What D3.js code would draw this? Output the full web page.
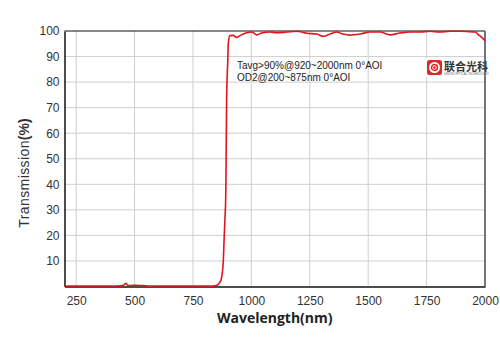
<!DOCTYPE html>
<html>
<head>
<meta charset="utf-8">
<script src="https://d3js.org/d3.v7.min.js"></script>
<style>
  body { margin: 0; background: #fff; }
  text { font-family: "Liberation Sans", Arial, sans-serif; }
</style>
</head>
<body>
<div id="chart"></div>
<script>
// wavelength (nm) and transmission (%)
var wavelength = [200, 300, 400, 440, 455, 463, 470, 485, 500, 520, 536, 560, 650, 750, 820, 850, 861, 870, 875, 880, 883, 887, 890, 891, 894, 899, 901, 908, 922, 937, 951, 980, 1001, 1023, 1044, 1080, 1108, 1151, 1194, 1237, 1280, 1308, 1337, 1365, 1392, 1422, 1465, 1508, 1551, 1593, 1636, 1679, 1722, 1764, 1807, 1850, 1893, 1936, 1958, 1971, 1986, 2000];
var transmission = [0.2, 0.2, 0.2, 0.3, 0.6, 1.3, 0.5, 0.4, 0.5, 0.4, 0.4, 0.2, 0.2, 0.2, 0.2, 0.4, 1.2, 2.5, 5, 10.3, 18, 27, 34, 41.7, 73, 88.7, 95, 98.2, 98.3, 97.5, 98.2, 99.3, 99.6, 98.5, 99.2, 99.6, 99.3, 99.6, 99.9, 99.1, 98.8, 97.9, 98.8, 99.6, 98.8, 98.4, 98.8, 99.6, 99.6, 98.5, 99.2, 99.6, 99.6, 99.9, 99.6, 99.9, 99.9, 99.7, 99.6, 98.6, 97.5, 96.2];
var xTicks = [250, 500, 750, 1000, 1250, 1500, 1750, 2000];
var yTicks = [10, 20, 30, 40, 50, 60, 70, 80, 90, 100];
var notes = ["Tavg>90%@920~2000nm 0°AOI", "OD2@200~875nm 0°AOI"];

var W = 500, H = 353;
var mLeft = 64.5, mRight = 485, mTop = 31, mBottom = 286.5;

var svg = d3.select("#chart").append("svg")
    .attr("width", W).attr("height", H);

var x = d3.scaleLinear().domain([200, 2000]).range([mLeft, mRight]);
var y = d3.scaleLinear().domain([0, 100]).range([mBottom, mTop]);

// grid
svg.append("g").selectAll("line").data(xTicks.slice(0, -1)).enter().append("line")
    .attr("x1", d => x(d)).attr("x2", d => x(d))
    .attr("y1", mTop).attr("y2", mBottom)
    .attr("stroke", "#cfcfcf").attr("stroke-width", 1);
svg.append("g").selectAll("line").data(yTicks.slice(0, -1)).enter().append("line")
    .attr("x1", mLeft).attr("x2", mRight)
    .attr("y1", d => y(d)).attr("y2", d => y(d))
    .attr("stroke", "#cfcfcf").attr("stroke-width", 1);

// frame
svg.append("line").attr("x1", mLeft).attr("x2", mRight).attr("y1", mTop).attr("y2", mTop)
    .attr("stroke", "#111").attr("stroke-width", 1.2);
svg.append("line").attr("x1", mRight).attr("x2", mRight).attr("y1", mTop).attr("y2", mBottom)
    .attr("stroke", "#666").attr("stroke-width", 1.8);

// axes
var xAxis = d3.axisBottom(x).tickValues(xTicks).tickFormat(d3.format("d")).tickSize(0).tickPadding(10);
var yAxis = d3.axisLeft(y).tickValues(yTicks).tickFormat(d3.format("d")).tickSize(0).tickPadding(5);

var gx = svg.append("g").attr("transform", "translate(0," + mBottom + ")").call(xAxis);
var gy = svg.append("g").attr("transform", "translate(" + mLeft + ",0)").call(yAxis);
[gx, gy].forEach(function(g) {
  g.select(".domain").attr("stroke", "#111").attr("stroke-width", 1.5);
  g.selectAll("text").attr("fill", "#333").style("font-size", "12px")
    .style("font-family", "'Liberation Sans', Arial, sans-serif");
});

// curve
var line = d3.line()
    .x(function(d, i) { return x(wavelength[i]); })
    .y(function(d) { return y(d); })
    .curve(d3.curveMonotoneX);
svg.append("path")
    .attr("d", line(transmission))
    .attr("fill", "none")
    .attr("stroke", "#e3141c")
    .attr("stroke-width", 1.6);

// notes
svg.append("g").selectAll("text").data(notes).enter().append("text")
    .attr("x", 237).attr("y", (d, i) => 69 + i * 11.5)
    .attr("fill", "#222").style("font-size", "10px")
    .text(d => d);

// logo
var logo = svg.append("g").attr("transform", "translate(427,60)");
logo.append("rect").attr("x", -1).attr("y", -2).attr("width", 58).attr("height", 19).attr("fill", "#fff");
logo.append("rect").attr("width", 15).attr("height", 15).attr("rx", 2.5).attr("fill", "#e0262b");
logo.append("circle").attr("cx", 7.5).attr("cy", 7.5).attr("r", 4.6).attr("fill", "none")
    .attr("stroke", "#fff").attr("stroke-width", 1.8);
logo.append("circle").attr("cx", 7.5).attr("cy", 7.5).attr("r", 1.8).attr("fill", "none")
    .attr("stroke", "#fff").attr("stroke-width", 1);
logo.append("text").attr("x", 17).attr("y", 10.5)
    .style("font-family", "'Noto Sans CJK SC', sans-serif").style("font-size", "11px")
    .style("font-weight", "bold").attr("fill", "#333").text("联合光科");
logo.append("text").attr("x", 17).attr("y", 15)
    .style("font-size", "3px").attr("fill", "#666").text("UNION OPTICAL TECHNOLOGY");

// axis titles
var yTitle = svg.append("text")
    .attr("transform", "translate(29,173) rotate(-90)")
    .attr("text-anchor", "middle")
    .attr("fill", "#333").style("font-size", "14px");
yTitle.append("tspan").style("font-weight", "normal").style("letter-spacing", "0.4px").text("Transmission");
yTitle.append("tspan").style("font-weight", "bold").text("(%)");

svg.append("text")
    .attr("x", (mLeft + mRight) / 2).attr("y", 323)
    .attr("text-anchor", "middle")
    .attr("fill", "#222").style("font-size", "14px").style("font-weight", "bold")
    .style("font-family", "'Open Sans', sans-serif")
    .text("Wavelength(nm)");
</script>
</body>
</html>
